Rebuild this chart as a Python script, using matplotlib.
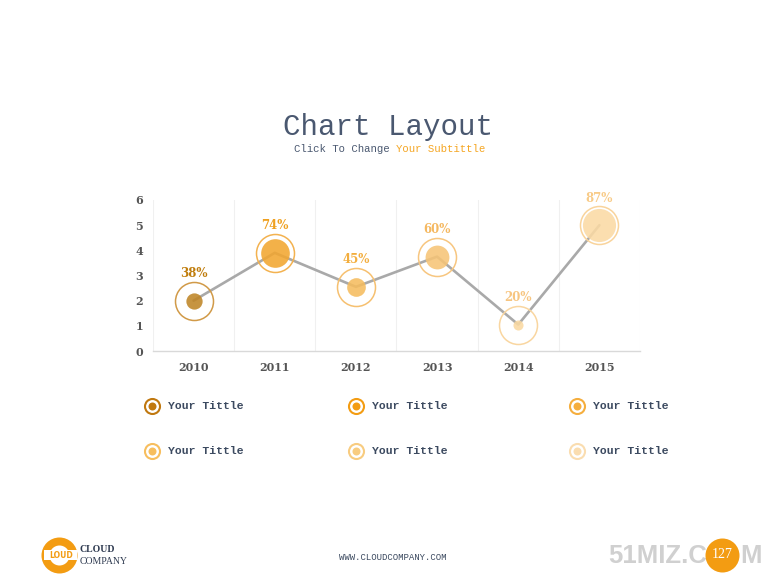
import matplotlib
matplotlib.use("Agg")
import matplotlib.pyplot as plt
from matplotlib.lines import Line2D
from matplotlib.patches import Rectangle

years = ["2010", "2011", "2012", "2013", "2014", "2015"]
values = [2.0, 3.9, 2.55, 3.75, 1.05, 5.0]
percents = [38, 74, 45, 60, 20, 87]
pct_labels = ["38%", "74%", "45%", "60%", "20%", "87%"]
legend_labels = ["Your Tittle"] * 6
y_ticks = [0, 1, 2, 3, 4, 5, 6]

fill_colors = ["#BF8526", "#F2A630", "#F5BC5E", "#F6C476", "#FAD9A2", "#FBDAA4"]
ring_colors = ["#D19A48", "#F3B250", "#F6C070", "#F7C680", "#F9D6A0", "#F9D49C"]
label_colors = ["#C07D0C", "#EFA020", "#F3AE3E", "#F5B860", "#F7C580", "#F8CB88"]
legend_fill = ["#C0780F", "#F39C12", "#F5AE3E", "#F7BE5E", "#F8CC80", "#FADDB0"]
legend_ring = ["#C0780F", "#F39C12", "#F5AE3E", "#F7BE5E", "#F8CC80", "#FADDB0"]

W, H = 780, 585
fig = plt.figure(figsize=(7.8, 5.85), dpi=100)
ax = fig.add_axes([153/W, 1-351/H, (640-153)/W, (351-200)/H])

px2pt = 72 / 100


def fx(x):
    return x / W


def fy(y):
    return 1 - y / H


def fig_dot(cx, cy, diam_px, face, edge="none", ew=0.0, z=3):
    fig.add_artist(Line2D([fx(cx)], [fy(cy)], marker="o", markersize=diam_px * px2pt,
                          markerfacecolor=face, markeredgecolor=edge,
                          markeredgewidth=ew, transform=fig.transFigure, zorder=z))


x = list(range(len(years)))
ax.set_xlim(-0.5, 5.5)
ax.set_ylim(0, 6)

for b in [i - 0.5 for i in range(len(years) + 1)]:
    ax.axvline(b, color="#F0F0F0", lw=0.8, zorder=0)

ax.plot(x, values, color="#A9A9A9", lw=1.9, zorder=2, solid_capstyle="round")

for i in x:
    ax.plot(i, values[i], marker="o", markersize=38 * px2pt, markerfacecolor="none",
            markeredgecolor=ring_colors[i], markeredgewidth=1.1, zorder=3, linestyle="none")
    r = 1.6 + 0.172 * percents[i]
    ax.plot(i, values[i], marker="o", markersize=2 * r * px2pt, markerfacecolor=fill_colors[i],
            markeredgecolor="none", alpha=0.88, zorder=3, linestyle="none")
    ax.annotate(pct_labels[i], (i, values[i]), xytext=(0, 19.5), textcoords="offset points",
                ha="center", va="center", fontsize=8.5, fontweight="bold",
                family="DejaVu Serif", color=label_colors[i])

ax.set_xticks(x)
ax.set_xticklabels(years)
ax.set_yticks(y_ticks)
for lbl in ax.get_xticklabels() + ax.get_yticklabels():
    lbl.set_family("DejaVu Serif")
    lbl.set_fontweight("bold")
    lbl.set_fontsize(8)
    lbl.set_color("#555555")
ax.tick_params(axis="both", length=0)
ax.tick_params(axis="x", pad=8)
ax.tick_params(axis="y", pad=7)
for s in ["top", "right", "left"]:
    ax.spines[s].set_visible(False)
ax.spines["bottom"].set_color("#D9D9D9")
ax.spines["bottom"].set_linewidth(1.0)
ax.patch.set_alpha(0)

# Title and subtitle
fig.text(fx(388), fy(127), "Chart Layout", ha="center", va="center",
         family="Liberation Mono", fontsize=21, color="#4A5870")
fig.text(fx(294), fy(149), "Click To Change ", ha="left", va="center",
         family="Liberation Mono", fontsize=7.7, color="#4A5870")
fig.text(fx(396), fy(149), "Your Subtittle", ha="left", va="center",
         family="Liberation Mono", fontsize=7.7, color="#F5A623")

# Legend
lx = [152, 356, 577]
ly = [406, 451]
for k in range(6):
    cx = lx[k % 3]
    cy = ly[k // 3]
    fig_dot(cx, cy, 15, "white", legend_ring[k], 1.5)
    fig_dot(cx, cy, 8, legend_fill[k])
    fig.text(fx(cx + 16), fy(cy), legend_labels[k], ha="left", va="center",
             family="Liberation Mono", fontweight="bold", fontsize=8.2, color="#3C4A60")

# Footer logo
fig_dot(59, 555, 36, "#F39C12")
fig_dot(59, 555, 20, "white")
fig.add_artist(Rectangle((fx(44), fy(560)), (77 - 44) / W, 10 / H, transform=fig.transFigure,
                         facecolor="white", edgecolor="none", zorder=4))
fig.text(fx(61), fy(555), "LOUD", ha="center", va="center", fontsize=5.5,
         color="#F39C12", fontweight="bold", family="DejaVu Sans", zorder=5)
fig.text(fx(80), fy(549), "CLOUD", ha="left", va="center", family="Liberation Serif",
         fontweight="bold", fontsize=7, color="#2E3A50")
fig.text(fx(80), fy(561), "COMPANY", ha="left", va="center", family="Liberation Serif",
         fontsize=7, color="#2E3A50")
fig.text(fx(393), fy(557), "WWW.CLOUDCOMPANY.COM", ha="center", va="center",
         family="Liberation Mono", fontsize=6.5, color="#3C4A60")

# Watermark and page number
fig.text(fx(707), fy(556), "51MIZ.C", ha="right", va="center",
         family="Liberation Sans", fontweight="bold", fontsize=18.5, color="#D0D0D0")
fig.text(fx(762), fy(556), "M", ha="right", va="center",
         family="Liberation Sans", fontweight="bold", fontsize=18.5, color="#D0D0D0")
fig_dot(722, 555, 34, "#F39C12", z=6)
fig.text(fx(722), fy(555), "127", ha="center", va="center", family="Liberation Serif",
         fontsize=10, color="white", zorder=7)

fig.savefig("out.png", dpi=100)
